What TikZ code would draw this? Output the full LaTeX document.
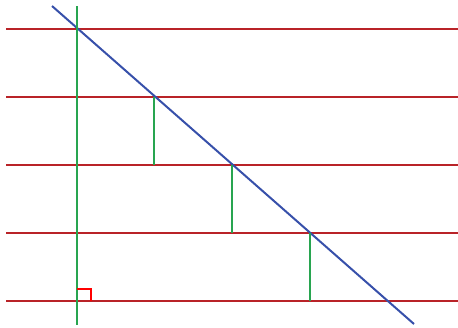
\documentclass[tikz,border=0pt]{standalone}
\usepackage{tikz}
\usetikzlibrary{calc}
\definecolor{lineR}{RGB}{185,35,40}
\definecolor{lineG}{RGB}{40,165,80}
\definecolor{lineB}{RGB}{55,80,170}
\tikzset{
  parline/.style={lineR, line width=2pt},
  perpline/.style={lineG, line width=2pt},
  transline/.style={lineB, line width=2pt},
  rightmark/.style={red, line width=1.4pt},
}

\begin{document}
\begin{tikzpicture}[x=1pt, y=-1pt]
  \useasboundingbox (0,0) rectangle (458,327);
  % Parallel lines
  \foreach \i/\y in {1/29,2/97,3/165,4/233,5/301} {
    \coordinate (L\i) at (6,\y);
    \coordinate (R\i) at (458,\y);
    \draw[parline] (L\i) -- (R\i);
  }
  % Transversal
  \coordinate (tTop) at (52,6);
  \coordinate (tBot) at (414,324);
  \draw[transline] (tTop) -- (tBot);
  % Perpendicular
  \coordinate (pTop) at (77,6);
  \coordinate (pBot) at (77,325);
  \draw[perpline] (pTop) -- (pBot);
  % Short perpendicular segments
  \coordinate (s1a) at (154,97);  \coordinate (s1b) at (154,165);
  \coordinate (s2a) at (232,165); \coordinate (s2b) at (232,233);
  \coordinate (s3a) at (310,233); \coordinate (s3b) at (310,301);
  \draw[perpline] (s1a) -- (s1b);
  \draw[perpline] (s2a) -- (s2b);
  \draw[perpline] (s3a) -- (s3b);
  % Right angle mark
  \coordinate (foot) at (77,301);
  \draw[rightmark] ($(foot)+(0,-12)$) -- ($(foot)+(14,-12)$) -- ($(foot)+(14,0)$);
\end{tikzpicture}
\end{document}
